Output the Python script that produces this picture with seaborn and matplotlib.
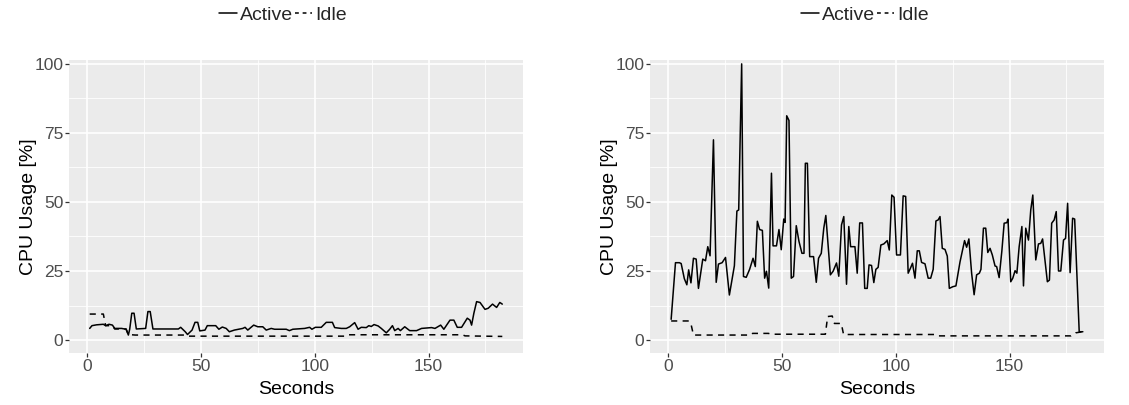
import pandas as pd
import matplotlib
matplotlib.use("Agg")
import matplotlib.pyplot as plt
from matplotlib.lines import Line2D
import seaborn as sns

# Data (vertices of each trace)
# ====================================================
left_active_t = [1, 2, 4, 7, 8, 9.5, 11, 12, 15, 17, 18, 18.6, 19.5, 20.5, 21.5, 25.6, 26.6, 27.6, 28.8,
                 40, 41, 43, 44, 46, 47.3, 48.5, 49.4, 51.7, 52.7, 56.4, 57.8, 59.3, 61, 62.4, 64.6, 68.3,
                 69.3, 70.5, 73.1, 74.9, 77.1, 78.6, 80.8, 82.3, 87.4, 88.8, 90.3, 95.5, 97.7, 98.7, 100.2,
                 102.8, 105, 107.7, 108.7, 111.6, 113.8, 115.3, 117.5, 119, 120.4, 122.6, 123.7, 124.8, 126,
                 127.8, 129.2, 131.4, 132.9, 134.1, 135.1, 136.6, 137.6, 139.5, 141.7, 144.7, 146.9, 151.3,
                 152.8, 155.3, 156.7, 159.4, 161.1, 162.6, 164.5, 167, 168.2, 168.9, 169.9, 171.1, 172.6,
                 174.8, 176.2, 178.1, 179.9, 181.3, 182.4]
left_active_v = [4.2, 5.2, 5.5, 5.7, 5.2, 5.7, 5.4, 4.2, 4.2, 3.9, 1.8, 4.0, 9.7, 9.7, 4.0, 4.2, 10.3, 10.3, 4.0,
                 4.0, 4.6, 3.0, 2.0, 3.6, 6.4, 6.4, 3.3, 3.6, 5.2, 5.2, 3.9, 4.7, 4.2, 3.0, 3.6, 4.2,
                 4.6, 3.6, 5.4, 4.8, 4.8, 3.6, 4.2, 3.9, 3.9, 3.4, 3.9, 4.2, 4.6, 3.9, 4.6,
                 4.6, 6.4, 6.4, 4.5, 4.2, 4.2, 4.8, 6.3, 3.9, 4.6, 4.5, 5.2, 4.9, 5.6,
                 5.1, 4.2, 2.6, 3.9, 5.2, 3.4, 4.2, 3.4, 4.8, 3.4, 3.4, 4.2, 4.5,
                 4.2, 5.4, 3.9, 7.2, 7.2, 4.6, 4.6, 7.9, 7.2, 5.4, 9.7, 13.9, 13.6,
                 11.1, 11.5, 13.0, 11.8, 13.6, 13.0]

left_idle_t = [1, 7, 8, 11, 12, 17, 18, 21, 43, 44, 113, 114, 165, 166, 182.4]
left_idle_v = [9.4, 9.4, 5.2, 5.2, 4.0, 4.0, 2.0, 1.8, 1.8, 1.4, 1.4, 1.9, 1.9, 1.5, 1.3]

right_active_t = [1.2, 3.1, 4.8, 5.6, 7.0, 8.1, 8.9, 9.9, 11, 12.2, 13.2, 15.1, 16.3, 17.3, 18.3, 19.8, 21,
                  22, 23.6, 25.1, 26.8, 29, 30.1, 30.9, 32.2, 33, 34.2, 35.7, 37.2, 38.2, 39.1, 40.1, 41.3,
                  42.3, 43.1, 44.1, 45.3, 46, 47.5, 48.6, 49.6, 50.7, 51.3, 52, 53, 54, 55, 56.2, 57.4,
                  58.7, 59.6, 60.2, 61.1, 62.1, 63.8, 65, 66, 67.2, 68.3, 69.2, 71.2, 72.4, 73.9, 74.9,
                  76.1, 77.1, 78.3, 79.3, 80.1, 82, 83, 84.1, 85.3, 86.3, 87.4, 88.2, 89.3, 90.3, 91.2,
                  92.2, 93.4, 94.7, 96.2, 97.1, 98.2, 99.2, 100.3, 102, 103.2, 104.3, 105.4, 106.4, 107.3,
                  108.4, 109.4, 110.3, 111.3, 112.8, 114.2, 115.3, 116.4, 117.6, 118.6, 119.4, 120.4,
                  121.6, 122.6, 123.5, 125, 126.4, 128.2, 130.2, 131.1, 132.1, 133.3, 134.4, 135.5, 136.7,
                  137.4, 138.5, 139.5, 140.4, 141.4, 142.4, 143.6, 144.3, 145.4, 146.6, 147.6, 148.8,
                  149.3, 150.5, 151.4, 152.4, 153.2, 154.2, 155.4, 156.1, 157.1, 158.3, 159.3, 160.2,
                  161.5, 162.7, 163.7, 164.5, 165.6, 166.6, 167.5, 168.5, 169.6, 170.5, 171.5, 172.5,
                  173.7, 174.6, 175.5, 176.6, 177.7, 178.6, 180.6, 182.2]
right_active_v = [7.5, 28, 28, 27.7, 22.2, 20, 25.4, 20.7, 29.6, 29.3, 18.7, 29.3, 28.7, 33.8, 30.5, 72.5, 20.9,
                  27.5, 28, 29.9, 16.3, 26.9, 46.7, 47.1, 100, 23, 22.7, 25.6, 29.6, 26.6, 43, 40, 39.7,
                  22.4, 24.9, 18.8, 60.4, 34.1, 34.1, 40, 32.7, 43.8, 42.6, 81.2, 79.5, 22.4, 23, 41.4, 35.7,
                  31.4, 31.4, 64, 64, 30.2, 30.2, 20.9, 29.6, 31.4, 40.5, 45.1, 23.6, 24.9, 27.9, 23.1,
                  41.7, 44.7, 20.2, 41.1, 33.8, 33.8, 24.2, 42.4, 42.4, 18.7, 18.7, 27.2, 27, 20.8, 25.6,
                  26.3, 34.4, 34.8, 36, 32.6, 52.5, 51.7, 30.8, 30.8, 52.2, 52, 24.2, 26, 27.8,
                  22.4, 32.3, 32.3, 28.1, 27.6, 22.4, 22.4, 25.6, 43.1, 43.5, 44.7, 33.2,
                  32.8, 30.4, 18.7, 19.3, 19.6, 28.3, 36, 33.6, 36.6, 24.2, 16.4, 23.6, 24.2,
                  25.6, 40.5, 40.5, 31.7, 33.2, 30.8, 26.8, 26.6, 22.6, 32.3, 42.3, 42.5,
                  43.8, 21.1, 22.4, 25.1, 24.2, 33.8, 41.1, 19.6, 40.5, 36.2, 47.1, 52.5,
                  29, 34.8, 35, 36.6, 28.3, 21.1, 21.7, 42.3, 43.5, 46.5, 25, 25,
                  36.2, 36.8, 49.5, 24.4, 44.1, 43.8, 3.0, 3.0]

right_idle_t = [1.2, 9, 10, 11, 36, 37, 44, 45, 69, 70, 72, 73, 76, 77, 117, 118, 177, 179, 182.2]
right_idle_v = [6.9, 6.9, 5.5, 1.8, 1.8, 2.4, 2.4, 2.1, 2.1, 8.5, 8.7, 6.0, 6.0, 2.0, 2.0, 1.5, 1.5, 2.6, 3.0]

x_ticks = [0, 50, 100, 150]
y_ticks = [0, 25, 50, 75, 100]


def trace(t, v, state):
    return pd.DataFrame({"Seconds": t, "CPU": v, "State": state})


left_df = pd.concat([trace(left_active_t, left_active_v, "Active"),
                     trace(left_idle_t, left_idle_v, "Idle")])
right_df = pd.concat([trace(right_active_t, right_active_v, "Active"),
                      trace(right_idle_t, right_idle_v, "Idle")])

# Theme (ggplot grey look)
# ========================
sns.set_theme(style="darkgrid", rc={
    "axes.facecolor": "#EBEBEB",
    "grid.color": "white",
    "axes.edgecolor": "#EBEBEB",
})
plt.rcParams["font.family"] = ["Liberation Sans", "DejaVu Sans"]

fig = plt.figure(figsize=(11.29, 4.05), dpi=100)
W, H = 1129, 405
ax_left = fig.add_axes([69 / W, (H - 353) / H, 454 / W, 293 / H])
ax_right = fig.add_axes([650 / W, (H - 353) / H, 454 / W, 293 / H])

dash_map = {"Active": "", "Idle": (4, 3.5)}
legend_x = [283, 865]

for ax, df, lx in [(ax_left, left_df, legend_x[0]), (ax_right, right_df, legend_x[1])]:
    sns.lineplot(data=df, x="Seconds", y="CPU", style="State", dashes=dash_map,
                 color="black", linewidth=1.1, sort=False, estimator=None,
                 legend=False, ax=ax)
    ax.set_xlim(-8.1, 191.5)
    ax.set_ylim(-4.7, 101.4)
    ax.set_xticks(x_ticks)
    ax.set_yticks(y_ticks)
    ax.set_xticks([25, 75, 125, 175], minor=True)
    ax.set_yticks([12.5, 37.5, 62.5, 87.5], minor=True)
    ax.grid(which="major", color="white", linewidth=1.2)
    ax.grid(which="minor", color="white", linewidth=0.6)
    ax.tick_params(which="major", direction="out", length=3, width=0.9, color="#333333",
                   labelsize=12.5, labelcolor="#4D4D4D", pad=1, bottom=True, left=True)
    ax.tick_params(which="minor", length=0)
    for s in ax.spines.values():
        s.set_visible(False)
    ax.set_xlabel("Seconds", fontsize=14, color="black")
    ax.set_ylabel("CPU Usage [%]", fontsize=14, color="black")
    ax.xaxis.set_label_coords(0.5, -0.095)
    ax.yaxis.set_label_coords(-0.07, 0.5)

    # legend on top of each panel
    handles = [Line2D([], [], color="black", linewidth=1.1),
               Line2D([], [], color="black", linewidth=1.1, dashes=(2.5, 2.5))]
    fig.legend(handles, ["Active", "Idle"], loc="center",
               bbox_to_anchor=(lx / W, 1 - 15 / H), ncol=2,
               frameon=False, fontsize=14, handlelength=0.9, handletextpad=0.15,
               columnspacing=0.1, borderpad=0)

fig.savefig("out.png", dpi=100)
